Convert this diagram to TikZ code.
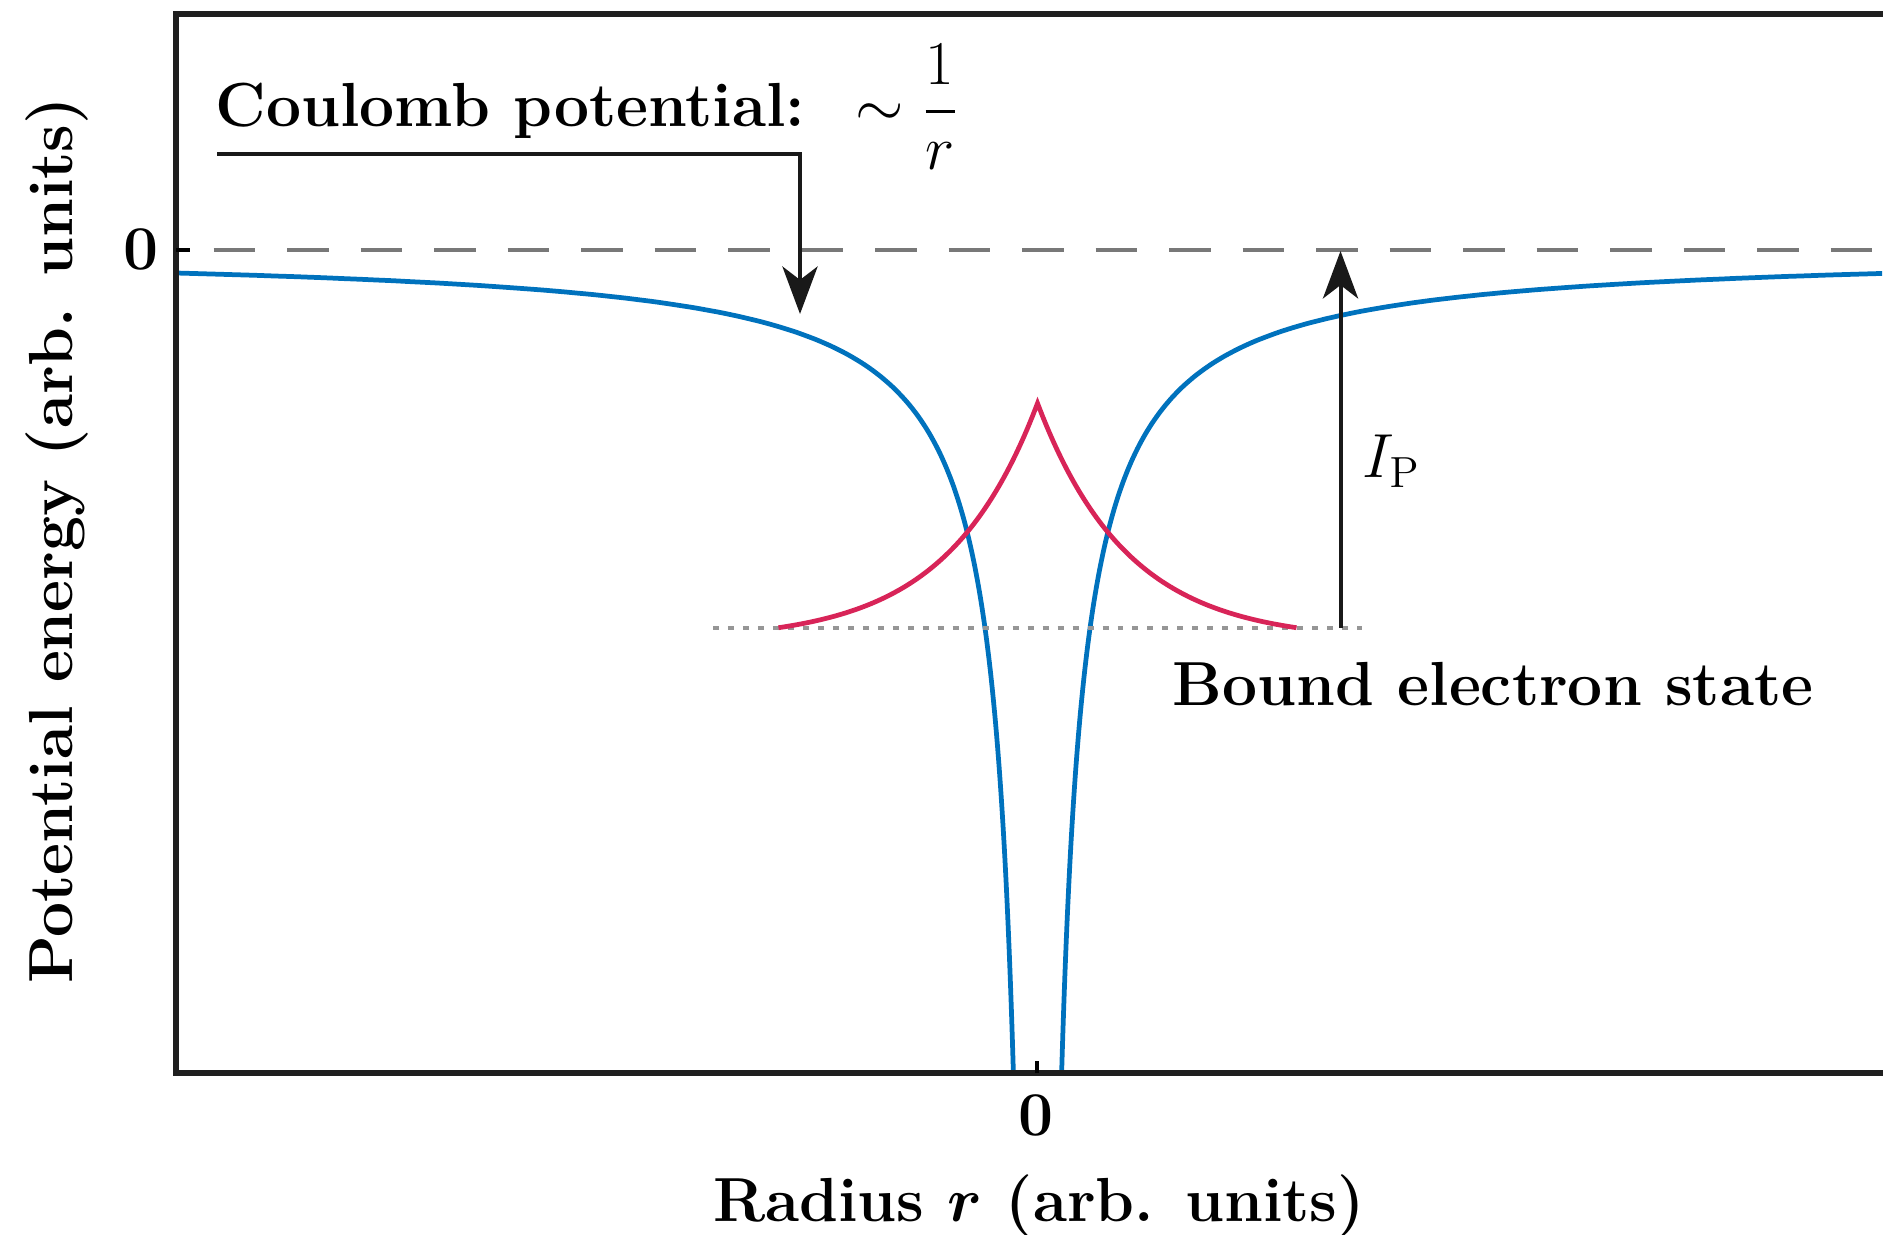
\RequirePackage{fix-cm}
\documentclass[tikz,border=0pt]{standalone}
\usepackage{amsmath}
\usepackage{bm}
\usetikzlibrary{arrows.meta}
\definecolor{potblue}{RGB}{0,114,189}
\definecolor{wavered}{RGB}{216,36,88}
\definecolor{zerogray}{RGB}{120,120,120}
\definecolor{levelgray}{RGB}{150,150,150}
\begin{document}
\begin{tikzpicture}[x=0.01cm, y=-0.01cm, font=\fontsize{17.7}{21}\selectfont,
  frame/.style={line width=1.7pt, black!88},
  potential/.style={line width=1.35pt, potblue},
  wave/.style={line width=1.35pt, wavered},
  pointer/.style={line width=1.15pt, black!90, -{Stealth[length=13.5pt,width=10pt,inset=3.8pt]}},
  lbl/.style={inner sep=0pt}]
\useasboundingbox (0,0) rectangle (1883,1234);
% curves
\draw[potential] plot[variable=\t, domain=0:3.576, samples=150, smooth] ({1037.5-24.12*exp(\t)},{250+823*exp(-\t)});
\draw[potential] plot[variable=\t, domain=0:3.557, samples=150, smooth] ({1037.5+24.12*exp(\t)},{250+823*exp(-\t)});
\draw[zerogray, line width=1.3pt, dash pattern=on 11.8pt off 9.1pt] (213.6,250) -- (1883,250);
\draw[levelgray, line width=1.2pt, dash pattern=on 1.7pt off 2.56pt] (713,627.7) -- (1362,627.7);
\draw[wave] plot[domain=-259:259, samples=201] ({1037.5+\x},{627.7-237.8*(exp(-abs(\x)/90)-0.0563)});
% frame and ticks
\draw[frame] (1883,14) -- (176,14) -- (176,1073) -- (1883,1073);
\draw[line width=1.2pt] (176,250) -- (190,250);
\draw[line width=1.2pt] (1037,1073) -- (1037,1061);
% labels
\node[lbl, anchor=base west] (coul) at (215,127) {\textbf{Coulomb potential:}};
\node[lbl, anchor=base west] (frac) at (855,127) {$\sim\dfrac{1}{r}$};
\node[lbl, anchor=base west] (ip) at (1362,478) {$I_{\mathrm{P}}$};
\node[lbl, anchor=base west] (bound) at (1172,705) {\textbf{Bound electron state}};
\node[lbl, anchor=base] (xzero) at (1036,1135) {\textbf{0}};
\node[lbl, anchor=base] (yzero) at (141.3,270) {\textbf{0}};
\node[lbl, anchor=base, rotate=90] (ylab) at (72,540.5) {\textbf{Potential energy (arb. units)}};
\node[lbl, anchor=base] (xlab) at (1039,1221.5) {\textbf{Radius $\bm{r}$ (arb. units)}};
% arrows
\coordinate (cstart) at (217,153.7);
\coordinate (cbend) at (800,153.7);
\coordinate (ctip) at (800,314);
\draw[pointer] (cstart) -- (cbend) -- (ctip);
\coordinate (ipbase) at (1340.5,627.7);
\coordinate (iptop) at (1340.5,251);
\draw[pointer] (ipbase) -- (iptop);
\end{tikzpicture}
\end{document}
